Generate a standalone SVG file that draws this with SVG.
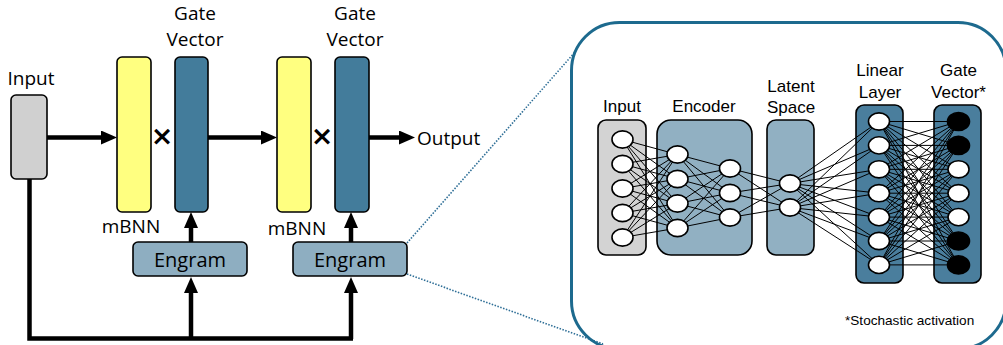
<svg xmlns="http://www.w3.org/2000/svg" width="1003" height="345" viewBox="0 0 1003 345">
<style>
.lbl{font-family:"Open Sans","Liberation Sans",sans-serif;font-size:19px;fill:#000}
.il{font-family:"Liberation Sans",Arial,sans-serif;font-size:17px;fill:#000;text-anchor:middle}
.box{stroke:#000;stroke-width:1.6}
.thick{stroke:#000;stroke-width:4.5;fill:none}
.nn line{stroke:#000;stroke-width:1}
.node{stroke:#000;stroke-width:1.6;fill:#fff}
.on{fill:#000}
.dot{stroke:#2f6f97;stroke-width:1.6;stroke-dasharray:1.5 1.5;fill:none}
.mul{font-family:"DejaVu Sans",sans-serif;font-weight:bold;font-size:27px;text-anchor:middle}
</style>
<defs>
<marker id="ah" markerUnits="userSpaceOnUse" markerWidth="16" markerHeight="14" refX="8" refY="7" orient="auto">
<path d="M0,0 L16,7 L0,14 z" fill="#000"/>
</marker>
</defs>

<!-- connectors -->
<g id="connectors">
<line class="thick" x1="47" y1="137.5" x2="109" y2="137.5" marker-end="url(#ah)"/>
<line class="thick" x1="208" y1="137.5" x2="269" y2="137.5" marker-end="url(#ah)"/>
<line class="thick" x1="369" y1="137.5" x2="407" y2="137.5" marker-end="url(#ah)"/>
<line class="thick" x1="191" y1="242" x2="191" y2="220" marker-end="url(#ah)"/>
<line class="thick" x1="351" y1="242" x2="351" y2="220" marker-end="url(#ah)"/>
<polyline class="thick" points="29.5,179 29.5,338.5 353,338.5"/>
<line class="thick" x1="191" y1="339" x2="191" y2="285" marker-end="url(#ah)"/>
<line class="thick" x1="351" y1="339" x2="351" y2="285" marker-end="url(#ah)"/>
<line class="dot" x1="407" y1="243" x2="575" y2="52"/>
<line class="dot" x1="407" y1="274" x2="603" y2="344"/>
</g>

<g id="input">
<rect class="box" x="11" y="95" width="36" height="84" rx="5" fill="#d0d0d0"/>
<text class="lbl" x="31" y="85" text-anchor="middle">Input</text>
</g>
<g id="mbnn1">
<rect class="box" x="117" y="57" width="34" height="155" rx="5" fill="#ffff80"/>
<text class="lbl" x="131" y="233" text-anchor="middle">mBNN</text>
</g>
<g id="gate1">
<rect class="box" x="175" y="57" width="33" height="155" rx="5" fill="#437c9b"/>
<text class="lbl" x="195" y="20" text-anchor="middle">Gate</text>
<text class="lbl" x="195" y="46" text-anchor="middle">Vector</text>
</g>
<text class="mul" x="162" y="145">×</text>
<g id="mbnn2">
<rect class="box" x="277" y="57" width="34" height="155" rx="5" fill="#ffff80"/>
<text class="lbl" x="297" y="235" text-anchor="middle">mBNN</text>
</g>
<g id="gate2">
<rect class="box" x="335" y="57" width="34" height="155" rx="5" fill="#437c9b"/>
<text class="lbl" x="355" y="20" text-anchor="middle">Gate</text>
<text class="lbl" x="355" y="46" text-anchor="middle">Vector</text>
</g>
<text class="mul" x="322" y="145">×</text>
<g id="output">
<text class="lbl" x="417" y="145">Output</text>
</g>
<g id="engram1">
<rect class="box" x="133" y="242" width="114" height="34" rx="5" fill="#8eaec1"/>
<text class="lbl" x="190" y="267" text-anchor="middle" style="font-size:20px">Engram</text>
</g>
<g id="engram2">
<rect class="box" x="293" y="242" width="114" height="34" rx="5" fill="#8eaec1"/>
<text class="lbl" x="350" y="267" text-anchor="middle" style="font-size:20px">Engram</text>
</g>

<!-- zoom panel -->
<g id="panel">
<rect x="571.5" y="22.5" width="434.5" height="326.5" rx="48" fill="none" stroke="#1d6a8e" stroke-width="3"/>

<rect class="box" x="598" y="120" width="48" height="135" rx="8" fill="#d3d3d3"/>
<rect class="box" x="657" y="120" width="95" height="135" rx="14" fill="#91b0c2"/>
<rect class="box" x="767" y="120" width="47" height="135" rx="9" fill="#91b0c2"/>
<rect class="box" x="856" y="105" width="47" height="178" rx="8" fill="#4a7e9d"/>
<rect class="box" x="934" y="105" width="47" height="178" rx="8" fill="#4a7e9d"/>

<text class="il" x="622" y="111.5">Input</text>
<text class="il" x="704" y="111.5">Encoder</text>
<text class="il" x="791" y="91.5">Latent</text>
<text class="il" x="791" y="113">Space</text>
<text class="il" x="880" y="76">Linear</text>
<text class="il" x="880" y="98">Layer</text>
<text class="il" x="958.5" y="76">Gate</text>
<text class="il" x="958.5" y="98">Vector*</text>
<text x="845" y="325" style="font-family:'Liberation Sans',Arial,sans-serif;font-size:13.6px">*Stochastic activation</text>

<g class="nn">
<!-- input -> enc1 -->
<line x1="622.5" y1="139.5" x2="677.5" y2="154.5"/><line x1="622.5" y1="139.5" x2="677.5" y2="179"/><line x1="622.5" y1="139.5" x2="677.5" y2="203.5"/><line x1="622.5" y1="139.5" x2="677.5" y2="228"/>
<line x1="622.5" y1="164" x2="677.5" y2="154.5"/><line x1="622.5" y1="164" x2="677.5" y2="179"/><line x1="622.5" y1="164" x2="677.5" y2="203.5"/><line x1="622.5" y1="164" x2="677.5" y2="228"/>
<line x1="622.5" y1="188.5" x2="677.5" y2="154.5"/><line x1="622.5" y1="188.5" x2="677.5" y2="179"/><line x1="622.5" y1="188.5" x2="677.5" y2="203.5"/><line x1="622.5" y1="188.5" x2="677.5" y2="228"/>
<line x1="622.5" y1="213" x2="677.5" y2="154.5"/><line x1="622.5" y1="213" x2="677.5" y2="179"/><line x1="622.5" y1="213" x2="677.5" y2="203.5"/><line x1="622.5" y1="213" x2="677.5" y2="228"/>
<line x1="622.5" y1="237.5" x2="677.5" y2="154.5"/><line x1="622.5" y1="237.5" x2="677.5" y2="179"/><line x1="622.5" y1="237.5" x2="677.5" y2="203.5"/><line x1="622.5" y1="237.5" x2="677.5" y2="228"/>
<!-- enc1 -> enc2 -->
<line x1="677.5" y1="154.5" x2="730" y2="168.5"/><line x1="677.5" y1="154.5" x2="730" y2="193"/><line x1="677.5" y1="154.5" x2="730" y2="217.5"/>
<line x1="677.5" y1="179" x2="730" y2="168.5"/><line x1="677.5" y1="179" x2="730" y2="193"/><line x1="677.5" y1="179" x2="730" y2="217.5"/>
<line x1="677.5" y1="203.5" x2="730" y2="168.5"/><line x1="677.5" y1="203.5" x2="730" y2="193"/><line x1="677.5" y1="203.5" x2="730" y2="217.5"/>
<line x1="677.5" y1="228" x2="730" y2="168.5"/><line x1="677.5" y1="228" x2="730" y2="193"/><line x1="677.5" y1="228" x2="730" y2="217.5"/>
<!-- enc2 -> latent -->
<line x1="730" y1="168.5" x2="790" y2="183.5"/><line x1="730" y1="168.5" x2="790" y2="207.5"/>
<line x1="730" y1="193" x2="790" y2="183.5"/><line x1="730" y1="193" x2="790" y2="207.5"/>
<line x1="730" y1="217.5" x2="790" y2="183.5"/><line x1="730" y1="217.5" x2="790" y2="207.5"/>
<!-- latent -> linear -->
<line x1="790" y1="183.5" x2="879" y2="121.5"/><line x1="790" y1="183.5" x2="879" y2="145.4"/><line x1="790" y1="183.5" x2="879" y2="169.3"/><line x1="790" y1="183.5" x2="879" y2="193.2"/><line x1="790" y1="183.5" x2="879" y2="217.1"/><line x1="790" y1="183.5" x2="879" y2="241"/><line x1="790" y1="183.5" x2="879" y2="264.9"/>
<line x1="790" y1="207.5" x2="879" y2="121.5"/><line x1="790" y1="207.5" x2="879" y2="145.4"/><line x1="790" y1="207.5" x2="879" y2="169.3"/><line x1="790" y1="207.5" x2="879" y2="193.2"/><line x1="790" y1="207.5" x2="879" y2="217.1"/><line x1="790" y1="207.5" x2="879" y2="241"/><line x1="790" y1="207.5" x2="879" y2="264.9"/>
<!-- linear -> gate -->
<line x1="879" y1="121.5" x2="958.5" y2="121.5"/><line x1="879" y1="121.5" x2="958.5" y2="145.4"/><line x1="879" y1="121.5" x2="958.5" y2="169.3"/><line x1="879" y1="121.5" x2="958.5" y2="193.2"/><line x1="879" y1="121.5" x2="958.5" y2="217.1"/><line x1="879" y1="121.5" x2="958.5" y2="241"/><line x1="879" y1="121.5" x2="958.5" y2="264.9"/>
<line x1="879" y1="145.4" x2="958.5" y2="121.5"/><line x1="879" y1="145.4" x2="958.5" y2="145.4"/><line x1="879" y1="145.4" x2="958.5" y2="169.3"/><line x1="879" y1="145.4" x2="958.5" y2="193.2"/><line x1="879" y1="145.4" x2="958.5" y2="217.1"/><line x1="879" y1="145.4" x2="958.5" y2="241"/><line x1="879" y1="145.4" x2="958.5" y2="264.9"/>
<line x1="879" y1="169.3" x2="958.5" y2="121.5"/><line x1="879" y1="169.3" x2="958.5" y2="145.4"/><line x1="879" y1="169.3" x2="958.5" y2="169.3"/><line x1="879" y1="169.3" x2="958.5" y2="193.2"/><line x1="879" y1="169.3" x2="958.5" y2="217.1"/><line x1="879" y1="169.3" x2="958.5" y2="241"/><line x1="879" y1="169.3" x2="958.5" y2="264.9"/>
<line x1="879" y1="193.2" x2="958.5" y2="121.5"/><line x1="879" y1="193.2" x2="958.5" y2="145.4"/><line x1="879" y1="193.2" x2="958.5" y2="169.3"/><line x1="879" y1="193.2" x2="958.5" y2="193.2"/><line x1="879" y1="193.2" x2="958.5" y2="217.1"/><line x1="879" y1="193.2" x2="958.5" y2="241"/><line x1="879" y1="193.2" x2="958.5" y2="264.9"/>
<line x1="879" y1="217.1" x2="958.5" y2="121.5"/><line x1="879" y1="217.1" x2="958.5" y2="145.4"/><line x1="879" y1="217.1" x2="958.5" y2="169.3"/><line x1="879" y1="217.1" x2="958.5" y2="193.2"/><line x1="879" y1="217.1" x2="958.5" y2="217.1"/><line x1="879" y1="217.1" x2="958.5" y2="241"/><line x1="879" y1="217.1" x2="958.5" y2="264.9"/>
<line x1="879" y1="241" x2="958.5" y2="121.5"/><line x1="879" y1="241" x2="958.5" y2="145.4"/><line x1="879" y1="241" x2="958.5" y2="169.3"/><line x1="879" y1="241" x2="958.5" y2="193.2"/><line x1="879" y1="241" x2="958.5" y2="217.1"/><line x1="879" y1="241" x2="958.5" y2="241"/><line x1="879" y1="241" x2="958.5" y2="264.9"/>
<line x1="879" y1="264.9" x2="958.5" y2="121.5"/><line x1="879" y1="264.9" x2="958.5" y2="145.4"/><line x1="879" y1="264.9" x2="958.5" y2="169.3"/><line x1="879" y1="264.9" x2="958.5" y2="193.2"/><line x1="879" y1="264.9" x2="958.5" y2="217.1"/><line x1="879" y1="264.9" x2="958.5" y2="241"/><line x1="879" y1="264.9" x2="958.5" y2="264.9"/>
</g>

<g id="nodes">
<ellipse class="node" cx="622.5" cy="139.5" rx="10.5" ry="8.6"/>
<ellipse class="node" cx="622.5" cy="164" rx="10.5" ry="8.6"/>
<ellipse class="node" cx="622.5" cy="188.5" rx="10.5" ry="8.6"/>
<ellipse class="node" cx="622.5" cy="213" rx="10.5" ry="8.6"/>
<ellipse class="node" cx="622.5" cy="237.5" rx="10.5" ry="8.6"/>
<ellipse class="node" cx="677.5" cy="154.5" rx="10.5" ry="8.6"/>
<ellipse class="node" cx="677.5" cy="179" rx="10.5" ry="8.6"/>
<ellipse class="node" cx="677.5" cy="203.5" rx="10.5" ry="8.6"/>
<ellipse class="node" cx="677.5" cy="228" rx="10.5" ry="8.6"/>
<ellipse class="node" cx="730" cy="168.5" rx="10.5" ry="8.6"/>
<ellipse class="node" cx="730" cy="193" rx="10.5" ry="8.6"/>
<ellipse class="node" cx="730" cy="217.5" rx="10.5" ry="8.6"/>
<ellipse class="node" cx="790" cy="183.5" rx="10.5" ry="8.6"/>
<ellipse class="node" cx="790" cy="207.5" rx="10.5" ry="8.6"/>
<ellipse class="node" cx="879" cy="121.5" rx="10.5" ry="8.6"/>
<ellipse class="node" cx="879" cy="145.4" rx="10.5" ry="8.6"/>
<ellipse class="node" cx="879" cy="169.3" rx="10.5" ry="8.6"/>
<ellipse class="node" cx="879" cy="193.2" rx="10.5" ry="8.6"/>
<ellipse class="node" cx="879" cy="217.1" rx="10.5" ry="8.6"/>
<ellipse class="node" cx="879" cy="241" rx="10.5" ry="8.6"/>
<ellipse class="node" cx="879" cy="264.9" rx="10.5" ry="8.6"/>
<ellipse class="node on" cx="958.5" cy="121.5" rx="11" ry="9"/>
<ellipse class="node on" cx="958.5" cy="145.4" rx="11" ry="9"/>
<ellipse class="node" cx="958.5" cy="169.3" rx="10.5" ry="8.6"/>
<ellipse class="node" cx="958.5" cy="193.2" rx="10.5" ry="8.6"/>
<ellipse class="node" cx="958.5" cy="217.1" rx="10.5" ry="8.6"/>
<ellipse class="node on" cx="958.5" cy="241" rx="11" ry="9"/>
<ellipse class="node on" cx="958.5" cy="264.9" rx="11" ry="9"/>
</g>
</g>
</svg>
